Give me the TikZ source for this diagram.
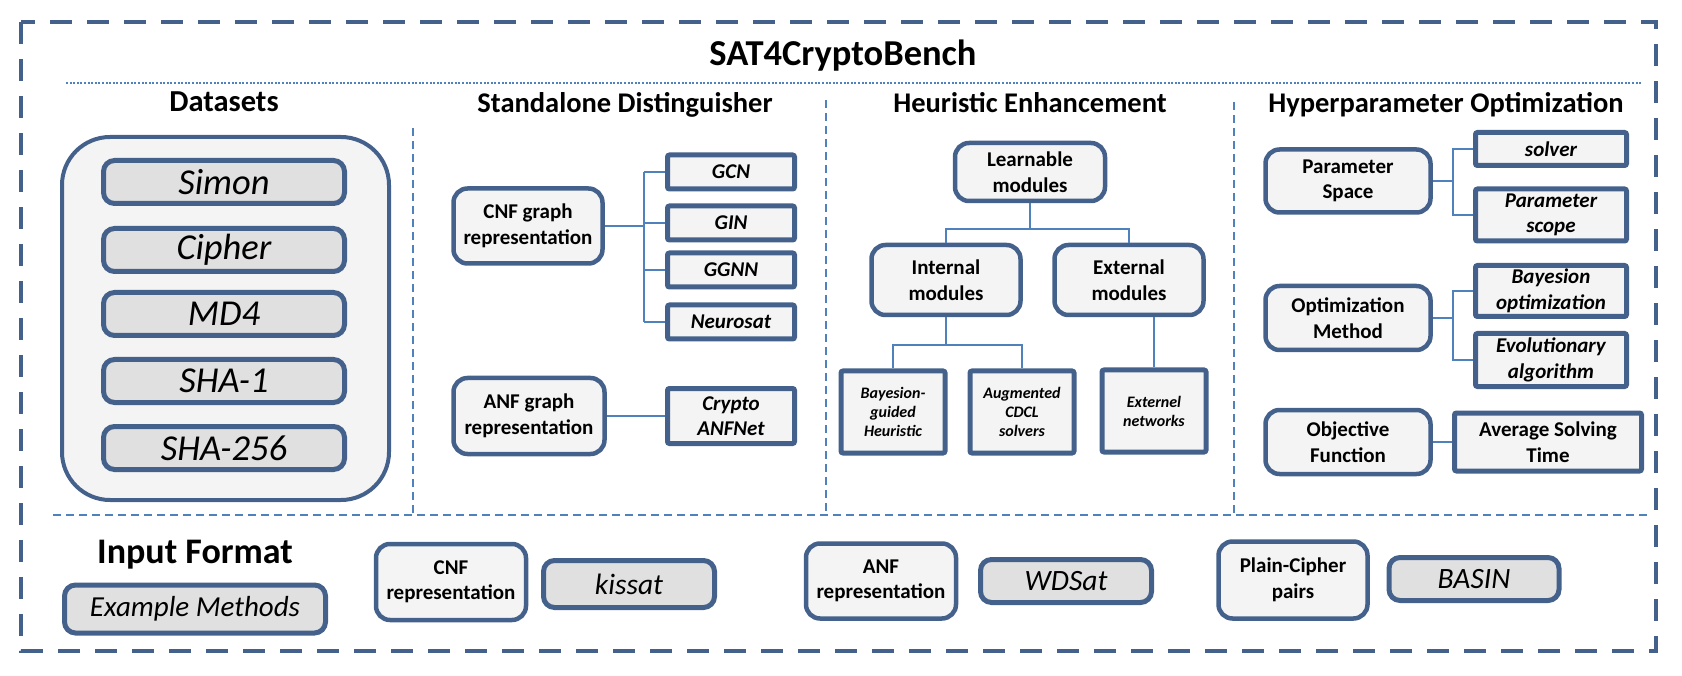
\documentclass[tikz,border=0pt]{standalone}
\usepackage{fontspec}
\setmainfont{Carlito}
\definecolor{dblue}{RGB}{68,97,140}
\definecolor{lblue}{RGB}{79,129,189}
\definecolor{lfill}{RGB}{244,244,244}
\definecolor{dfill}{RGB}{224,224,224}
\begin{document}
\begin{tikzpicture}[x=1pt,y=-1pt,
  outerframe/.style={draw=dblue,line width=4.5pt,dash pattern=on 22pt off 15pt},
  sepline/.style={draw=lblue,line width=2pt,dash pattern=on 8pt off 5pt},
  dotline/.style={draw=lblue,line width=2.2pt,dash pattern=on 2pt off 1.6pt},
  conn/.style={draw=lblue,line width=1.8pt},
  head/.style={anchor=base,inner sep=0pt,font=\fontsize{28.5}{32}\selectfont\bfseries},
  bigbox/.style={draw=dblue,line width=4pt,fill=lfill,rounded corners=48pt},
  itembox/.style={draw=dblue,line width=5pt,fill=dfill,rounded corners=11pt,inner sep=0pt,
    minimum width=241pt,minimum height=43pt,font=\fontsize{36.5}{40}\selectfont\itshape},
  rbox/.style={draw=dblue,line width=4.5pt,fill=lfill,rounded corners=14pt,inner sep=0pt,
    align=center,font=\fontsize{21}{25.5}\selectfont\bfseries},
  sbox/.style={draw=dblue,line width=5pt,fill=lfill,rounded corners=2pt,inner sep=0pt,
    align=center,font=\fontsize{21}{25.5}\selectfont\bfseries\itshape},
  smallbox/.style={sbox,minimum width=104pt,minimum height=82pt,
    font=\fontsize{16}{19}\selectfont\bfseries\itshape},
  exbox/.style={draw=dblue,line width=5pt,fill=dfill,rounded corners=11pt,inner sep=0pt,
    minimum width=171pt,minimum height=45pt,font=\fontsize{29.5}{34}\selectfont\itshape}
]
\useasboundingbox (0,0) rectangle (1682,676);

% frames and separators
\draw[outerframe] (21,22) rectangle (1656,651);
\draw[dotline] (66,83) -- (1641,83);
\draw[sepline] (53,515) -- (1650,515);
\draw[sepline] (413,128) -- (413,515);
\draw[sepline] (826,100) -- (826,515);
\draw[sepline] (1234,102) -- (1234,515);

% titles
\node[head,font=\fontsize{36.5}{40}\selectfont\bfseries] (title) at (843,66) {SAT4CryptoBench};
\node[head,font=\fontsize{30.5}{34}\selectfont\bfseries] (hds) at (224,112) {Datasets};
\node[head] (hsd) at (625,113) {Standalone Distinguisher};
\node[head] (hhe) at (1030,113) {Heuristic Enhancement};
\node[head] (hho) at (1446,113) {Hyperparameter Optimization};
\node[head,font=\fontsize{36}{40}\selectfont\bfseries] (hif) at (195,563) {Input Format};

% datasets
\node[bigbox,minimum width=327pt,minimum height=363pt] (dsbox) at (225.5,318.5) {};
\node[itembox] (simon) at (224,182) {Simon};
\node[itembox] (cipher) at (224,250) {Cipher};
\node[itembox] (md4) at (224,314) {MD4};
\node[itembox] (sha1) at (224,381) {SHA-1};
\node[itembox] (sha256) at (224,448) {SHA-256};

% standalone distinguisher
\node[rbox,minimum width=149pt,minimum height=75pt] (cnfg) at (528,226) {CNF graph\\representation};
\node[sbox,minimum width=127pt,minimum height=34pt] (gcn) at (731,172) {GCN};
\node[sbox,minimum width=127pt,minimum height=34pt] (gin) at (731,223) {GIN};
\node[sbox,minimum width=127pt,minimum height=34pt] (ggnn) at (731,270) {GGNN};
\node[sbox,minimum width=127pt,minimum height=34pt] (neuro) at (731,322) {Neurosat};
\node[rbox,minimum width=151pt,minimum height=76pt] (anfg) at (529,416) {ANF graph\\representation};
\node[sbox,minimum width=127pt,minimum height=55pt] (canf) at (731,416) {Crypto\\ANFNet};
\coordinate (tA) at (644,226);
\draw[conn] (cnfg.east) -- (tA);
\draw[conn] (tA |- gcn.west) -- (tA |- neuro.west);
\foreach \n in {gcn,gin,ggnn,neuro} \draw[conn] (tA |- \n.west) -- (\n.west);
\draw[conn] (anfg.east) -- (canf.west);

% heuristic enhancement
\node[rbox,minimum width=150pt,minimum height=58pt] (learn) at (1030,172) {Learnable\\modules};
\node[rbox,minimum width=149pt,minimum height=70pt] (intm) at (946,280) {Internal\\modules};
\node[rbox,minimum width=149pt,minimum height=70pt] (extm) at (1129,280) {External\\modules};
\node[smallbox] (bayh) at (893,412) {Bayesion-\\guided\\Heuristic};
\node[smallbox] (aug) at (1022,412) {Augmented\\CDCL\\solvers};
\node[smallbox] (extn) at (1154,411) {Externel\\networks};
\coordinate (hbar) at (1030,229);
\coordinate (ibar) at (946,345);
\draw[conn] (learn.south) -- (hbar);
\draw[conn] (intm.north) |- (hbar) -| (extm.north);
\draw[conn] (intm.south) -- (ibar);
\draw[conn] (bayh.north) |- (ibar) -| (aug.north);
\draw[conn] (extm.south -| extn.north) -- (extn.north);

% hyperparameter optimization
\node[rbox,minimum width=165pt,minimum height=63pt] (ps) at (1348,181) {Parameter\\Space};
\node[sbox,minimum width=151pt,minimum height=33pt] (solver) at (1551,149) {solver};
\node[sbox,minimum width=151pt,minimum height=52pt] (pscope) at (1551,215) {Parameter\\scope};
\node[rbox,minimum width=165pt,minimum height=64pt] (om) at (1348,318) {Optimization\\Method};
\node[sbox,minimum width=151pt,minimum height=51pt] (bayo) at (1551,291) {Bayesion\\optimization};
\node[sbox,minimum width=151pt,minimum height=53pt] (evo) at (1551,360) {Evolutionary\\algorithm};
\node[rbox,minimum width=165pt,minimum height=64pt] (obj) at (1348,442) {Objective\\Function};
\node[sbox,minimum width=187pt,minimum height=58pt,font=\fontsize{21}{25.5}\selectfont\bfseries] (avg) at (1548,442) {Average Solving\\Time};
\coordinate (pbar) at (1453,181);
\coordinate (obar) at (1453,318);
\draw[conn] (ps.east) -- (pbar);
\draw[conn] (solver.west) -| (pbar) |- (pscope.west);
\draw[conn] (om.east) -- (obar);
\draw[conn] (bayo.west) -| (obar) |- (evo.west);
\draw[conn] (obj.east) -- (avg.west);

% input format row
\node[exbox,minimum width=261pt,minimum height=48pt,font=\fontsize{29}{34}\selectfont\itshape] (exm) at (195,609) {Example Methods};
\node[rbox,minimum width=150pt,minimum height=76pt] (cnfr) at (451,582) {CNF\\representation};
\node[exbox,minimum height=47pt] (kis) at (629,584) {kissat};
\node[rbox,minimum width=150pt,minimum height=75pt] (anfr) at (881,581) {ANF\\representation};
\node[exbox,minimum height=43pt] (wds) at (1066,581) {WDSat};
\node[rbox,minimum width=149pt,minimum height=77pt] (pcp) at (1293,580) {Plain-Cipher\\pairs};
\node[exbox,minimum width=170pt,minimum height=43pt] (bas) at (1474,579) {BASIN};
\end{tikzpicture}
\end{document}
